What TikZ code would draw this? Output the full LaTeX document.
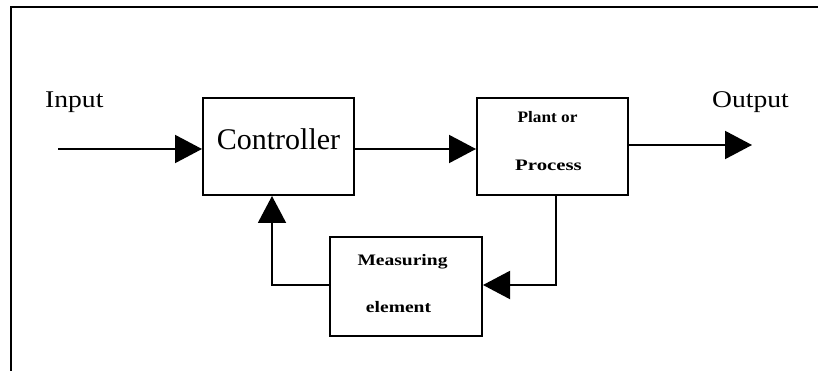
\documentclass[tikz,border=0pt]{standalone}
\usepackage{fontspec}
\setmainfont{Liberation Serif}
\newfontfamily\widefont[FakeStretch=1.15]{Liberation Serif}
\newfontfamily\sbfont[FakeStretch=1.22]{Liberation Serif}
\usetikzlibrary{arrows.meta}
\tikzset{
  blockbox/.style={draw=black, line width=2pt, minimum width=#1, minimum height=97pt, inner sep=0pt},
  blockbox/.default=151pt,
  txt/.style={inner sep=0pt, anchor=base},
  conn/.style={line width=2pt, -{Triangle[length=27pt,width=28pt]}},
  plainline/.style={line width=2pt},
  bigtxt/.style={txt, font=\widefont\fontsize{24}{28}\selectfont},
  smalltxt/.style={txt, font=\sbfont\bfseries\fontsize{16}{19}\selectfont},
}
\begin{document}
\begin{tikzpicture}[x=1pt,y=-1pt]
\useasboundingbox (0,0) rectangle (818,371);
% frame
\coordinate (frameTR) at (818,7);
\coordinate (frameTL) at (11,7);
\coordinate (frameBL) at (11,371);
\draw[plainline, line cap=rect] (frameTR) -- (frameTL) -- (frameBL);
% blocks
\node[blockbox] (ctrl) at (278.5,146.5) {};
\node[blockbox] (plant) at (552.5,146.5) {};
\node[blockbox=152pt, minimum height=99pt] (meas) at (406,286.5) {};
% texts
\node[bigtxt, anchor=base west] (inlbl) at (45,108) {Input};
\node[bigtxt, anchor=base west] (outlbl) at (712,108) {Output};
\node[txt, font=\fontsize{30}{34}\selectfont] (ctrltxt) at (278.5,150) {Controller};
\node[smalltxt, font=\sbfont\bfseries\fontsize{16}{19}\selectfont\addfontfeature{FakeStretch=1.08}] (planttxt) at (547.5,123) {Plant or};
\node[smalltxt, font=\sbfont\bfseries\fontsize{16}{19}\selectfont\addfontfeature{FakeStretch=1.3}] (proctxt) at (548.5,171) {Process};
\node[smalltxt] (meastxt) at (402.5,265) {Measuring};
\node[smalltxt] (elemtxt) at (398.5,312) {element};
% connectors
\coordinate (in) at (58,149);
\coordinate (out) at (752,145);
\draw[conn] (in) -- (in -| ctrl.west);
\draw[conn] ([yshift=-2.5pt]ctrl.east) -- ([yshift=-2.5pt]plant.west);
\draw[conn] (out -| plant.east) -- (out);
\draw[conn] ([xshift=3.5pt]plant.south) |- ([yshift=1.5pt]meas.east);
\draw[conn] ([yshift=1.5pt]meas.west) -| ([xshift=-6.5pt]ctrl.south);
\end{tikzpicture}
\end{document}
